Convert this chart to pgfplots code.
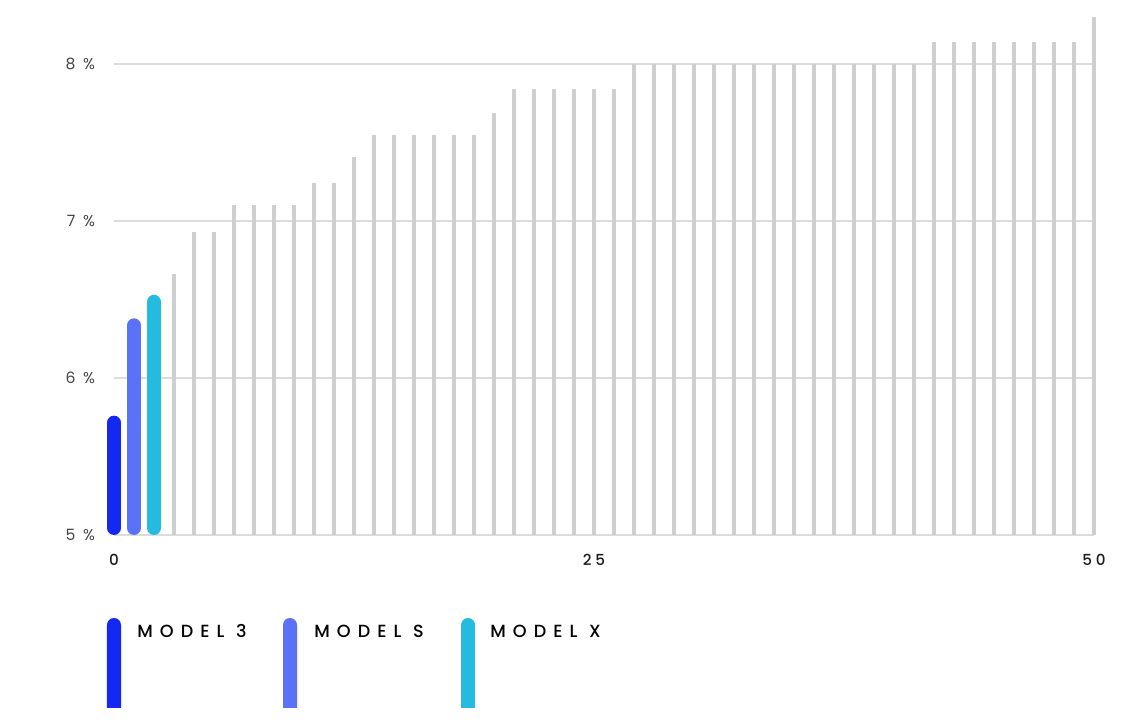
\documentclass[border=0pt]{standalone}
\usepackage{fontspec}
\setmainfont{Poppins}
\newfontfamily\legfont[LetterSpace=40]{Poppins Medium}
\newfontfamily\xtickfont[LetterSpace=26]{Poppins Medium}
\newfontfamily\ytickfont[LetterSpace=22]{Poppins}
\usepackage{pgfplots}
\pgfplotsset{compat=1.18}
\usepackage{pgfplotstable}
\definecolor{mthree}{HTML}{1428F2}
\definecolor{ms}{HTML}{5A72F7}
\definecolor{mx}{HTML}{24BBDF}
\definecolor{barg}{HTML}{CFCFCF}
\definecolor{gridg}{HTML}{DCDCDC}
\definecolor{ylab}{HTML}{444444}
\definecolor{xlab}{HTML}{1A1A1A}

% gray bars: base (5) and top per bar, nan rows break the line
\pgfplotstableread{
x y
3 5
3 6.66
3 nan
4 5
4 6.93
4 nan
5 5
5 6.93
5 nan
6 5
6 7.10
6 nan
7 5
7 7.10
7 nan
8 5
8 7.10
8 nan
9 5
9 7.10
9 nan
10 5
10 7.24
10 nan
11 5
11 7.24
11 nan
12 5
12 7.41
12 nan
13 5
13 7.55
13 nan
14 5
14 7.55
14 nan
15 5
15 7.55
15 nan
16 5
16 7.55
16 nan
17 5
17 7.55
17 nan
18 5
18 7.55
18 nan
19 5
19 7.69
19 nan
20 5
20 7.84
20 nan
21 5
21 7.84
21 nan
22 5
22 7.84
22 nan
23 5
23 7.84
23 nan
24 5
24 7.84
24 nan
25 5
25 7.84
25 nan
26 5
26 8.00
26 nan
27 5
27 8.00
27 nan
28 5
28 8.00
28 nan
29 5
29 8.00
29 nan
30 5
30 8.00
30 nan
31 5
31 8.00
31 nan
32 5
32 8.00
32 nan
33 5
33 8.00
33 nan
34 5
34 8.00
34 nan
35 5
35 8.00
35 nan
36 5
36 8.00
36 nan
37 5
37 8.00
37 nan
38 5
38 8.00
38 nan
39 5
39 8.00
39 nan
40 5
40 8.00
40 nan
41 5
41 8.14
41 nan
42 5
42 8.14
42 nan
43 5
43 8.14
43 nan
44 5
44 8.14
44 nan
45 5
45 8.14
45 nan
46 5
46 8.14
46 nan
47 5
47 8.14
47 nan
48 5
48 8.14
48 nan
49 5
49 8.30
49 nan
}\graybars

\begin{document}
\begin{tikzpicture}
\begin{axis}[
  at={(0,0)}, anchor=south west,
  scale only axis,
  width=490pt, height=262.975pt,
  xmin=0, xmax=49, ymin=5, ymax=8.35,
  clip=false,
  axis x line=bottom, axis y line=left,
  axis line style={draw=none},
  major tick length=0pt,
  xtick={0,24,49}, xticklabels={0,25,50},
  ytick={5,6,7,8}, yticklabels={{5 \%},{6 \%},{7 \%},{8 \%}},
  ymajorgrids, major grid style={gridg, line width=0.6pt},
  xticklabel style={font=\xtickfont\fontsize{7.6}{8}\selectfont, text=xlab, yshift=-6pt},
  yticklabel style={font=\ytickfont\fontsize{7.8}{8}\selectfont, text=ylab, xshift=-6pt},
  unbounded coords=jump,
]
\addplot[barg, line width=2pt, line cap=butt] table[x=x, y=y] {\graybars};
\addplot[mthree, line width=7pt, line cap=round, shorten <=3.5pt, shorten >=3.5pt] coordinates {(0,5) (0,5.76)};
\addplot[ms, line width=7pt, line cap=round, shorten <=3.5pt, shorten >=3.5pt] coordinates {(1,5) (1,6.38)};
\addplot[mx, line width=7pt, line cap=round, shorten <=3.5pt, shorten >=3.5pt] coordinates {(2,5) (2,6.53)};
\end{axis}
% legend
\fill[mthree] (-3.5pt,-86.5pt) -- (-3.5pt,-45pt) arc (180:0:3.5pt) -- (3.5pt,-86.5pt) -- cycle;
\node[anchor=west, inner sep=0pt, text=black] at (11.5pt,-48pt) {\legfont\fontsize{8.8}{9}\selectfont MODEL 3};
\fill[ms] (84.5pt,-86.5pt) -- (84.5pt,-45pt) arc (180:0:3.5pt) -- (91.5pt,-86.5pt) -- cycle;
\node[anchor=west, inner sep=0pt, text=black] at (100pt,-48pt) {\legfont\fontsize{8.8}{9}\selectfont MODEL S};
\fill[mx] (173.5pt,-86.5pt) -- (173.5pt,-45pt) arc (180:0:3.5pt) -- (180.5pt,-86.5pt) -- cycle;
\node[anchor=west, inner sep=0pt, text=black] at (188pt,-48pt) {\legfont\fontsize{8.8}{9}\selectfont MODEL X};
\pgfresetboundingbox
\path[use as bounding box] (-57pt,-96pt) rectangle (513pt,267.5pt);
\end{tikzpicture}
\end{document}
